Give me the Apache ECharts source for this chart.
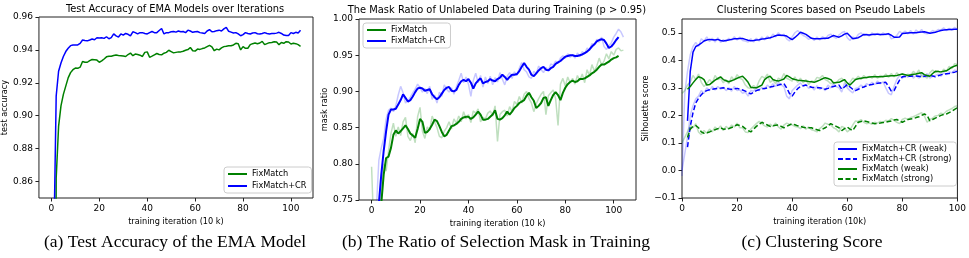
<!DOCTYPE html>
<html><head><meta charset="utf-8">
<script src="https://cdn.jsdelivr.net/npm/echarts@6/dist/echarts.min.js"></script>
<style>html,body{margin:0;padding:0;background:#fff}#c{width:969px;height:258px}</style>
</head><body><div id="c"></div>
<script>
// ---------- x values ----------
const itersAB = [0,1,2,3,4,5,6,7,8,9,10,11,12,13,14,15,16,17,18,19,20,21,22,23,24,25,26,27,28,29,30,31,32,33,34,35,36,37,38,39,40,41,42,43,44,45,46,47,48,49,50,51,52,53,54,55,56,57,58,59,60,61,62,63,64,65,66,67,68,69,70,71,72,73,74,75,76,77,78,79,80,81,82,83,84,85,86,87,88,89,90,91,92,93,94,95,96,97,98,99,100,101,102,103,104];
const itersC = [0,1,2,3,4,5,6,7,8,9,10,11,12,13,14,15,16,17,18,19,20,21,22,23,24,25,26,27,28,29,30,31,32,33,34,35,36,37,38,39,40,41,42,43,44,45,46,47,48,49,50,51,52,53,54,55,56,57,58,59,60,61,62,63,64,65,66,67,68,69,70,71,72,73,74,75,76,77,78,79,80,81,82,83,84,85,86,87,88,89,90,91,92,93,94,95,96,97,98,99,100];

// ---------- tick labels ----------
const ticksXab = [0,20,40,60,80,100];
const ticksYa = [0.86,0.88,0.90,0.92,0.94,0.96];
const ticksYb = [0.75,0.80,0.85,0.90,0.95,1.00];
const ticksXc = [0,20,40,60,80,100];
const ticksYc = [-0.1,0.0,0.1,0.2,0.3,0.4,0.5];

// ---------- (a) test accuracy ----------
const accFixMatch = [0.20,0.50,0.862,0.8935,0.906,0.913,0.918,0.923,0.9262,0.928,0.929,0.9288,0.9295,0.933,0.9325,0.9325,0.9335,0.9342,0.9340,0.9338,0.9325,0.9333,0.9345,0.9358,0.9362,0.9362,0.9366,0.9369,0.9366,0.9365,0.9363,0.9360,0.9372,0.9381,0.9365,0.9375,0.9372,0.9368,0.9360,0.9385,0.9388,0.9355,0.9362,0.9370,0.9378,0.9372,0.9370,0.9380,0.9385,0.9398,0.9390,0.9382,0.9385,0.9388,0.9388,0.9392,0.9398,0.9402,0.9415,0.9395,0.9393,0.9405,0.9403,0.9408,0.9412,0.9420,0.9428,0.9418,0.9395,0.9405,0.9400,0.9412,0.9420,0.9422,0.9425,0.9425,0.9430,0.9440,0.9438,0.9400,0.9420,0.9410,0.9410,0.9432,0.9438,0.9442,0.9438,0.9442,0.9452,0.9432,0.9438,0.9444,0.9445,0.9450,0.9448,0.9432,0.9445,0.9440,0.9450,0.9448,0.9436,0.9440,0.9438,0.9432,0.9422];
const accFixMatchCR = [0.30,0.82,0.912,0.927,0.932,0.936,0.939,0.941,0.9426,0.943,0.943,0.943,0.944,0.946,0.9457,0.9455,0.946,0.9466,0.9462,0.9474,0.9472,0.9474,0.9470,0.948,0.9468,0.9475,0.9497,0.9485,0.9478,0.9497,0.9490,0.950,0.9495,0.9485,0.951,0.9505,0.9497,0.9505,0.9505,0.950,0.9497,0.9505,0.9512,0.9505,0.9505,0.9518,0.953,0.9497,0.9505,0.9505,0.951,0.9512,0.9508,0.9515,0.951,0.9512,0.9505,0.952,0.9515,0.9507,0.951,0.9512,0.9505,0.9503,0.9500,0.9515,0.9523,0.951,0.9512,0.9517,0.952,0.9515,0.9528,0.9537,0.9513,0.9508,0.9503,0.9505,0.9497,0.9486,0.9493,0.9505,0.950,0.9497,0.9503,0.9505,0.9498,0.9497,0.950,0.9505,0.950,0.9497,0.950,0.950,0.9502,0.9507,0.950,0.949,0.9488,0.9488,0.9505,0.950,0.9507,0.9503,0.9519];

// ---------- (b) mask ratio ----------
const maskFixMatchRaw = [0.796,0.70,0.68,0.72,0.765,0.800,0.790,0.818,0.842,0.856,0.838,0.851,0.839,0.858,0.864,0.838,0.832,0.842,0.829,0.865,0.878,0.845,0.835,0.851,0.846,0.866,0.858,0.850,0.838,0.836,0.845,0.850,0.858,0.848,0.862,0.856,0.866,0.858,0.872,0.862,0.868,0.857,0.873,0.870,0.876,0.858,0.864,0.862,0.870,0.873,0.866,0.880,0.831,0.868,0.872,0.874,0.866,0.879,0.872,0.886,0.882,0.893,0.884,0.896,0.900,0.890,0.884,0.872,0.883,0.890,0.896,0.900,0.868,0.894,0.898,0.902,0.890,0.853,0.910,0.918,0.907,0.920,0.912,0.918,0.910,0.922,0.915,0.924,0.912,0.930,0.922,0.937,0.928,0.935,0.946,0.936,0.942,0.952,0.945,0.955,0.950,0.958,0.960,0.956,0.957];
const maskFixMatchCRRaw = [0.60,0.68,0.74,0.805,0.822,0.835,0.862,0.874,0.877,0.872,0.880,0.895,0.907,0.898,0.884,0.887,0.892,0.898,0.903,0.910,0.905,0.899,0.904,0.897,0.907,0.889,0.895,0.884,0.899,0.893,0.909,0.903,0.899,0.905,0.896,0.906,0.915,0.925,0.912,0.920,0.910,0.893,0.915,0.925,0.912,0.922,0.906,0.920,0.911,0.921,0.909,0.919,0.913,0.926,0.917,0.909,0.921,0.926,0.918,0.927,0.922,0.932,0.940,0.930,0.927,0.920,0.918,0.928,0.924,0.935,0.930,0.926,0.933,0.929,0.938,0.936,0.942,0.939,0.946,0.949,0.946,0.952,0.947,0.951,0.946,0.953,0.948,0.955,0.952,0.960,0.957,0.966,0.964,0.972,0.968,0.975,0.962,0.958,0.963,0.967,0.975,0.980,0.986,0.982,0.975];
const maskFixMatch = [0.55,0.60,0.65,0.70,0.745,0.785,0.808,0.810,0.822,0.840,0.846,0.842,0.845,0.849,0.853,0.848,0.842,0.839,0.836,0.848,0.862,0.858,0.843,0.844,0.848,0.854,0.861,0.859,0.852,0.844,0.838,0.840,0.846,0.852,0.853,0.855,0.858,0.862,0.864,0.865,0.865,0.862,0.864,0.868,0.872,0.868,0.861,0.861,0.862,0.865,0.868,0.874,0.862,0.861,0.863,0.867,0.872,0.868,0.872,0.877,0.880,0.884,0.886,0.888,0.894,0.898,0.892,0.887,0.877,0.880,0.884,0.891,0.892,0.880,0.888,0.895,0.899,0.895,0.888,0.898,0.905,0.910,0.913,0.915,0.913,0.914,0.917,0.917,0.918,0.920,0.922,0.925,0.927,0.930,0.934,0.937,0.937,0.939,0.941,0.944,0.946,0.947,0.949];
const maskFixMatchCR = [0.60,0.65,0.70,0.745,0.785,0.818,0.845,0.868,0.875,0.875,0.876,0.882,0.888,0.896,0.891,0.886,0.888,0.893,0.899,0.904,0.905,0.904,0.901,0.902,0.903,0.896,0.892,0.889,0.892,0.897,0.902,0.905,0.906,0.901,0.900,0.902,0.909,0.914,0.916,0.914,0.917,0.912,0.904,0.911,0.915,0.918,0.911,0.913,0.914,0.917,0.915,0.914,0.917,0.919,0.923,0.920,0.916,0.920,0.923,0.923,0.924,0.928,0.934,0.939,0.934,0.930,0.923,0.921,0.925,0.929,0.932,0.934,0.930,0.929,0.932,0.934,0.938,0.940,0.942,0.945,0.948,0.949,0.950,0.950,0.949,0.949,0.950,0.951,0.953,0.955,0.958,0.962,0.965,0.969,0.971,0.972,0.971,0.966,0.960,0.962,0.966,0.971,0.975];

// ---------- (c) silhouette score ----------
const silCRWeakRaw = [-0.02,0.28,0.36,0.42,0.45,0.465,0.45,0.478,0.47,0.485,0.468,0.48,0.466,0.482,0.465,0.475,0.468,0.48,0.472,0.486,0.474,0.485,0.472,0.47,0.466,0.478,0.466,0.48,0.47,0.485,0.474,0.488,0.478,0.495,0.485,0.5,0.488,0.495,0.478,0.47,0.485,0.5,0.508,0.498,0.49,0.485,0.476,0.482,0.472,0.485,0.474,0.486,0.476,0.49,0.495,0.485,0.48,0.492,0.5,0.505,0.482,0.472,0.485,0.478,0.494,0.5,0.49,0.496,0.488,0.5,0.49,0.498,0.49,0.5,0.492,0.498,0.478,0.482,0.49,0.505,0.498,0.506,0.496,0.508,0.495,0.51,0.5,0.512,0.498,0.496,0.5,0.508,0.504,0.512,0.51,0.518,0.508,0.516,0.51,0.52,0.512];
const silCRStrongRaw = [0.0,0.06,0.12,0.2,0.235,0.26,0.27,0.29,0.28,0.3,0.29,0.305,0.292,0.305,0.295,0.302,0.29,0.3,0.288,0.305,0.29,0.292,0.28,0.285,0.27,0.29,0.288,0.298,0.29,0.302,0.296,0.31,0.3,0.315,0.305,0.32,0.31,0.305,0.27,0.26,0.29,0.3,0.31,0.318,0.305,0.312,0.298,0.305,0.292,0.308,0.295,0.3,0.29,0.31,0.3,0.315,0.305,0.3,0.285,0.318,0.3,0.29,0.282,0.298,0.3,0.31,0.302,0.315,0.31,0.32,0.312,0.325,0.315,0.322,0.3,0.28,0.275,0.305,0.33,0.345,0.335,0.348,0.338,0.35,0.335,0.345,0.335,0.348,0.34,0.352,0.335,0.342,0.345,0.35,0.342,0.355,0.348,0.358,0.355,0.365,0.36];
const silWeakRaw = [0.28,0.29,0.31,0.32,0.345,0.33,0.35,0.32,0.305,0.315,0.33,0.318,0.345,0.33,0.335,0.318,0.33,0.315,0.34,0.328,0.348,0.335,0.33,0.31,0.3,0.298,0.308,0.3,0.325,0.342,0.335,0.35,0.32,0.328,0.315,0.335,0.33,0.352,0.335,0.33,0.325,0.34,0.32,0.335,0.318,0.33,0.312,0.325,0.322,0.338,0.335,0.345,0.33,0.325,0.315,0.32,0.318,0.33,0.335,0.325,0.305,0.32,0.335,0.33,0.342,0.33,0.345,0.335,0.342,0.335,0.348,0.335,0.345,0.338,0.35,0.338,0.352,0.34,0.355,0.345,0.352,0.34,0.35,0.345,0.36,0.35,0.365,0.34,0.342,0.335,0.355,0.365,0.355,0.362,0.352,0.368,0.36,0.378,0.37,0.388,0.385];
const silStrongRaw = [0.1,0.12,0.14,0.165,0.155,0.17,0.14,0.13,0.145,0.135,0.15,0.14,0.158,0.148,0.162,0.145,0.16,0.15,0.165,0.158,0.172,0.155,0.155,0.14,0.138,0.15,0.16,0.17,0.178,0.17,0.162,0.158,0.168,0.16,0.172,0.158,0.15,0.165,0.172,0.168,0.165,0.16,0.158,0.152,0.162,0.15,0.158,0.148,0.145,0.14,0.152,0.16,0.172,0.168,0.165,0.155,0.15,0.14,0.16,0.155,0.14,0.148,0.165,0.18,0.178,0.185,0.175,0.17,0.172,0.168,0.175,0.172,0.178,0.175,0.182,0.18,0.188,0.182,0.175,0.17,0.185,0.19,0.185,0.192,0.195,0.2,0.205,0.21,0.198,0.175,0.185,0.19,0.198,0.2,0.208,0.205,0.215,0.22,0.225,0.232,0.235];
const silCRWeak = [null,null,0.18,0.36,0.43,0.45,0.455,0.462,0.47,0.474,0.476,0.475,0.474,0.476,0.472,0.47,0.472,0.474,0.476,0.478,0.478,0.479,0.479,0.476,0.473,0.471,0.472,0.474,0.475,0.477,0.478,0.48,0.482,0.485,0.489,0.492,0.491,0.49,0.488,0.481,0.475,0.483,0.492,0.502,0.498,0.494,0.487,0.48,0.478,0.478,0.478,0.479,0.48,0.48,0.485,0.49,0.487,0.484,0.489,0.495,0.498,0.488,0.478,0.48,0.482,0.488,0.494,0.493,0.492,0.494,0.495,0.495,0.494,0.494,0.495,0.496,0.491,0.484,0.484,0.485,0.497,0.498,0.499,0.5,0.5,0.5,0.502,0.503,0.504,0.501,0.498,0.5,0.502,0.505,0.508,0.51,0.511,0.512,0.512,0.513,0.513];
const silCRStrong = [null,null,0.085,0.16,0.21,0.245,0.262,0.275,0.285,0.29,0.293,0.295,0.297,0.298,0.299,0.3,0.298,0.296,0.295,0.297,0.298,0.295,0.292,0.288,0.283,0.278,0.284,0.29,0.293,0.296,0.298,0.3,0.303,0.305,0.308,0.31,0.313,0.316,0.3,0.28,0.27,0.285,0.297,0.305,0.308,0.31,0.306,0.302,0.301,0.3,0.3,0.298,0.295,0.298,0.302,0.305,0.308,0.31,0.295,0.303,0.312,0.303,0.295,0.29,0.295,0.3,0.303,0.307,0.31,0.312,0.315,0.317,0.318,0.319,0.32,0.305,0.288,0.29,0.31,0.328,0.34,0.341,0.342,0.342,0.343,0.343,0.342,0.34,0.342,0.344,0.345,0.343,0.34,0.344,0.347,0.35,0.351,0.352,0.355,0.357,0.36];
const silWeak = [null,null,0.295,0.305,0.318,0.33,0.34,0.337,0.33,0.31,0.312,0.32,0.328,0.334,0.34,0.33,0.326,0.322,0.326,0.33,0.335,0.339,0.342,0.332,0.32,0.302,0.3,0.3,0.305,0.31,0.33,0.338,0.342,0.33,0.327,0.325,0.328,0.332,0.345,0.34,0.333,0.33,0.328,0.327,0.326,0.325,0.323,0.322,0.32,0.324,0.328,0.333,0.337,0.334,0.33,0.318,0.319,0.32,0.325,0.33,0.318,0.31,0.32,0.33,0.333,0.335,0.337,0.338,0.339,0.34,0.34,0.34,0.34,0.341,0.342,0.343,0.344,0.344,0.345,0.348,0.35,0.348,0.345,0.347,0.349,0.35,0.353,0.355,0.348,0.345,0.342,0.352,0.36,0.359,0.358,0.36,0.362,0.368,0.375,0.379,0.382];
const silStrong = [null,null,0.12,0.15,0.16,0.163,0.155,0.14,0.135,0.137,0.14,0.144,0.148,0.152,0.155,0.15,0.151,0.152,0.156,0.16,0.166,0.163,0.16,0.152,0.145,0.14,0.15,0.16,0.168,0.175,0.17,0.165,0.16,0.162,0.164,0.165,0.16,0.155,0.16,0.165,0.17,0.166,0.162,0.16,0.157,0.155,0.155,0.155,0.151,0.148,0.145,0.15,0.155,0.162,0.17,0.165,0.16,0.155,0.145,0.152,0.158,0.15,0.145,0.16,0.175,0.178,0.18,0.178,0.175,0.172,0.17,0.171,0.172,0.174,0.175,0.178,0.18,0.183,0.185,0.18,0.175,0.18,0.185,0.187,0.188,0.192,0.195,0.2,0.205,0.2,0.18,0.185,0.19,0.195,0.2,0.203,0.205,0.21,0.215,0.222,0.228];

// ---------- build ----------
const FONT = 'DejaVu Sans';
const G = '#008000', B = '#0000ff';
const GF = 'rgba(0,128,0,0.25)', BF = 'rgba(0,0,255,0.22)';
const pairs = (xs, ys) => xs.map((x, i) => [x, ys[i]]);

function xAxis(gi, min, max, ticks, name) {
  return {
    type: 'value', gridIndex: gi, min: min, max: max,
    name: name, nameLocation: 'middle', nameGap: 16,
    nameTextStyle: {fontFamily: FONT, fontSize: 8.2, color: '#000'},
    axisLine: {show: false, onZero: false},
    axisTick: {show: true, length: 3.5, inside: false, customValues: ticks, lineStyle: {color: '#222', width: 1}},
    axisLabel: {customValues: ticks, margin: 6, fontFamily: FONT, fontSize: 9, color: '#000', formatter: v => String(Math.round(v))},
    splitLine: {show: false}
  };
}
function yAxis(gi, min, max, ticks, name, gap, fmt) {
  return {
    type: 'value', gridIndex: gi, min: min, max: max,
    name: name, nameLocation: 'middle', nameGap: gap,
    nameTextStyle: {fontFamily: FONT, fontSize: 8.2, color: '#000'},
    axisLine: {show: false, onZero: false},
    axisTick: {show: true, length: 3.5, inside: false, customValues: ticks, lineStyle: {color: '#222', width: 1}},
    axisLabel: {customValues: ticks, margin: 6, fontFamily: FONT, fontSize: 9, color: '#000', formatter: fmt},
    splitLine: {show: false}
  };
}
function line(name, xi, xs, ys, color, width, dashed) {
  return {
    type: 'line', name: name, xAxisIndex: xi, yAxisIndex: xi,
    data: pairs(xs, ys), symbol: 'none', showSymbol: false, clip: true, silent: true,
    lineStyle: {color: color, width: width, type: dashed ? [5, 2.5] : 'solid'},
    itemStyle: {color: color}, emphasis: {disabled: true}
  };
}
function legend(names, left, top, gap) {
  return {
    data: names, left: left, top: top, orient: 'vertical',
    itemWidth: 19, itemHeight: 10, itemGap: gap,
    padding: [3, 5, 3, 3], borderColor: '#cccccc', borderWidth: 1, borderRadius: 3,
    backgroundColor: 'rgba(255,255,255,0.8)', selectedMode: false,
    itemStyle: {opacity: 0, color: 'rgba(0,0,0,0)', borderWidth: 0},
    textStyle: {fontFamily: FONT, fontSize: 8.2, color: '#000'}
  };
}
const txt = (text, x, y, size, family) => ({
  type: 'text', x: x, y: y, silent: true,
  style: {text: text, fill: '#000', font: size + 'px "' + family + '"', fontSize: size, fontFamily: family,
          align: 'center', verticalAlign: 'middle', textAlign: 'center', textVerticalAlign: 'middle'}
});

const fmt2 = v => v.toFixed(2);
const fmtC = v => (v < 0 ? '\u2212' : '') + Math.abs(v).toFixed(1);

const option = {
  animation: false,
  grid: [
    {left: 37, top: 17, width: 276, height: 181, show: true, borderColor: '#222', borderWidth: 1, backgroundColor: 'transparent'},
    {left: 359, top: 19, width: 277, height: 181, show: true, borderColor: '#222', borderWidth: 1, backgroundColor: 'transparent'},
    {left: 682, top: 19, width: 277, height: 179, show: true, borderColor: '#222', borderWidth: 1, backgroundColor: 'transparent'}
  ],
  xAxis: [
    xAxis(0, -5.2, 109.2, ticksXab, 'training iteration (10 k)'),
    xAxis(1, -5.2, 109.2, ticksXab, 'training iteration (10 k)'),
    xAxis(2, 0, 100, ticksXc, 'training iteration (10k)')
  ],
  yAxis: [
    yAxis(0, 0.85, 0.96, ticksYa, 'test accuracy', 27, fmt2),
    yAxis(1, 0.75, 1.00, ticksYb, 'mask ratio', 28, fmt2),
    yAxis(2, -0.1, 0.55, ticksYc, 'Silhouette score', 30, fmtC)
  ],
  legend: [
    legend(['FixMatch', 'FixMatch+CR'], 224, 167, 4),
    legend(['FixMatch', 'FixMatch+CR'], 363, 23, 3),
    legend(['FixMatch+CR (weak)', 'FixMatch+CR (strong)', 'FixMatch (weak)', 'FixMatch (strong)'], 834, 142, 2)
  ],
  series: [
    line('FixMatch', 0, itersAB, accFixMatch, G, 1.5),
    line('FixMatch+CR', 0, itersAB, accFixMatchCR, B, 1.5),

    line('FixMatch raw', 1, itersAB, maskFixMatchRaw, GF, 1.5),
    line('FixMatch+CR raw', 1, itersAB, maskFixMatchCRRaw, BF, 1.5),
    line('FixMatch', 1, itersAB, maskFixMatch, G, 2),
    line('FixMatch+CR', 1, itersAB, maskFixMatchCR, B, 2),

    line('CR weak raw', 2, itersC, silCRWeakRaw, BF, 1.5),
    line('CR strong raw', 2, itersC, silCRStrongRaw, BF, 1.5),
    line('weak raw', 2, itersC, silWeakRaw, GF, 1.5),
    line('strong raw', 2, itersC, silStrongRaw, GF, 1.5),
    line('FixMatch+CR (weak)', 2, itersC, silCRWeak, B, 1.5),
    line('FixMatch+CR (strong)', 2, itersC, silCRStrong, B, 1.5, true),
    line('FixMatch (weak)', 2, itersC, silWeak, G, 1.5),
    line('FixMatch (strong)', 2, itersC, silStrong, G, 1.5, true)
  ],
  graphic: [
    txt('Test Accuracy of EMA Models over Iterations', 175, 9.5, 9.9, FONT),
    txt('The Mask Ratio of Unlabeled Data during Training (p > 0.95)', 497, 10.5, 9.9, FONT),
    txt('Clustering Scores based on Pseudo Labels', 821, 10, 9.9, FONT),
    txt('(a) Test Accuracy of the EMA Model', 175, 242, 17.5, 'Liberation Serif'),
    txt('(b) The Ratio of Selection Mask in Training', 496, 242, 17.5, 'Liberation Serif'),
    txt('(c) Clustering Score', 812, 242, 17.5, 'Liberation Serif')
  ]
};
const chart = echarts.init(document.getElementById('c'), null, {renderer: 'canvas'});
chart.setOption(option);
</script></body></html>
